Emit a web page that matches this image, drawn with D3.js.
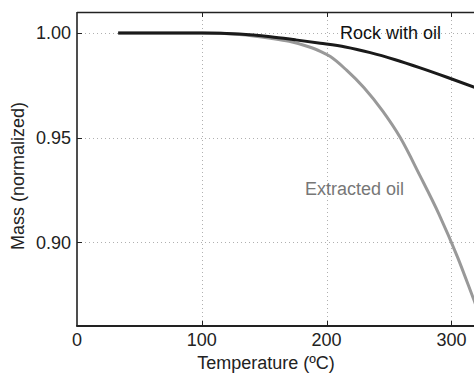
<!DOCTYPE html>
<html>
<head>
<meta charset="utf-8">
<script src="https://cdn.jsdelivr.net/npm/d3@7"></script>
<style>
  html, body { margin: 0; padding: 0; background: #fff; overflow: hidden; }
  svg { display: block; font-family: "Liberation Sans", Arial, sans-serif; }
</style>
</head>
<body>
<div id="chart"></div>
<script>
// ---- Data
const rockTemp = [33, 100, 130, 155, 175, 195, 215, 235, 255, 275, 297, 318, 335];
const rockMass = [1.000, 1.000, 0.9995, 0.9982, 0.9967, 0.9951, 0.9933, 0.9906, 0.9872, 0.9833, 0.9787, 0.9741, 0.9703];
const oilTemp = [33, 100, 130, 155, 170, 185, 195, 203, 216, 230, 245, 259, 275, 290, 305, 318, 335];
const oilMass = [1.000, 1.000, 0.9993, 0.9975, 0.9960, 0.9935, 0.9912, 0.9887, 0.9822, 0.9738, 0.9626, 0.9500, 0.9316, 0.9135, 0.8928, 0.8725, 0.8460];
const xTicks = [0, 100, 200, 300];
const yTicks = [0.90, 0.95, 1.00];

const width = 474, height = 373;
const margins = { left: 77, top: 12, bottom: 47 };
const plotW = 3.5 * 124.8; // runs past the right edge of the window
const plotH = height - margins.top - margins.bottom;

const svg = d3.select('#chart')
    .append('svg')
    .attr('width', width)
    .attr('height', height);

const x = d3.scaleLinear().domain([0, 350]).range([margins.left, margins.left + plotW]);
const y = d3.scaleLinear().domain([0.86, 1.01]).range([margins.top + plotH, margins.top]);

svg.append('clipPath')
    .attr('id', 'plotClip')
    .append('rect')
    .attr('x', margins.left)
    .attr('y', margins.top)
    .attr('width', plotW)
    .attr('height', plotH);

// ---- Dotted grid
const grid = svg.append('g').attr('class', 'grid')
    .style('stroke', '#b0b0b0')
    .style('stroke-width', 1)
    .style('stroke-dasharray', '1,3');

grid.selectAll('.vgrid')
    .data(xTicks.filter(d => d > 0))
    .join('line')
    .attr('class', 'vgrid')
    .attr('x1', d => Math.round(x(d)) + 0.5)
    .attr('x2', d => Math.round(x(d)) + 0.5)
    .attr('y1', margins.top)
    .attr('y2', margins.top + plotH);

grid.selectAll('.hgrid')
    .data(yTicks)
    .join('line')
    .attr('class', 'hgrid')
    .attr('x1', margins.left)
    .attr('x2', margins.left + plotW)
    .attr('y1', d => Math.round(y(d)) + 0.5)
    .attr('y2', d => Math.round(y(d)) + 0.5);

// ---- Curves
const line = d3.line()
    .x(d => x(d[0]))
    .y(d => y(d[1]))
    .curve(d3.curveMonotoneX);

const curves = svg.append('g').attr('clip-path', 'url(#plotClip)');

curves.append('path')
    .datum(oilTemp.map((t, i) => [t, oilMass[i]]))
    .attr('d', line)
    .style('fill', 'none')
    .style('stroke', '#999')
    .style('stroke-width', 3);

curves.append('path')
    .datum(rockTemp.map((t, i) => [t, rockMass[i]]))
    .attr('d', line)
    .style('fill', 'none')
    .style('stroke', '#1a1a1a')
    .style('stroke-width', 3);

// ---- Frame
const frame = svg.append('g').style('stroke', '#222');
frame.append('line')
    .attr('x1', margins.left).attr('x2', margins.left + plotW)
    .attr('y1', margins.top + 0.5).attr('y2', margins.top + 0.5)
    .style('stroke-width', 1.3);
frame.append('line')
    .attr('x1', margins.left).attr('x2', margins.left)
    .attr('y1', margins.top).attr('y2', margins.top + plotH)
    .style('stroke-width', 1.6);
frame.append('line')
    .attr('x1', margins.left - 0.8).attr('x2', margins.left + plotW)
    .attr('y1', margins.top + plotH).attr('y2', margins.top + plotH)
    .style('stroke-width', 2);

// small inward ticks
frame.selectAll('.xtick')
    .data(xTicks.filter(d => d > 0))
    .join('line')
    .attr('x1', d => Math.round(x(d)) + 0.5)
    .attr('x2', d => Math.round(x(d)) + 0.5)
    .attr('y1', margins.top + plotH)
    .attr('y2', margins.top + plotH - 5)
    .style('stroke-width', 1);
frame.selectAll('.xtickTop')
    .data(xTicks.filter(d => d > 0))
    .join('line')
    .attr('x1', d => Math.round(x(d)) + 0.5)
    .attr('x2', d => Math.round(x(d)) + 0.5)
    .attr('y1', margins.top)
    .attr('y2', margins.top + 5)
    .style('stroke-width', 1);
frame.selectAll('.ytick')
    .data(yTicks)
    .join('line')
    .attr('x1', margins.left)
    .attr('x2', margins.left + 5)
    .attr('y1', d => Math.round(y(d)) + 0.5)
    .attr('y2', d => Math.round(y(d)) + 0.5)
    .style('stroke-width', 1);

// ---- Tick labels
svg.selectAll('.xlabel')
    .data(xTicks)
    .join('text')
    .attr('class', 'xlabel')
    .attr('x', d => x(d))
    .attr('y', 346)
    .attr('text-anchor', 'middle')
    .style('font-size', '18px')
    .style('fill', '#222')
    .text(d => d);

svg.selectAll('.ylabel')
    .data(yTicks)
    .join('text')
    .attr('class', 'ylabel')
    .attr('x', 71)
    .attr('y', d => y(d) + 6.5)
    .attr('text-anchor', 'end')
    .style('font-size', '18px')
    .style('fill', '#222')
    .text(d => d3.format('.2f')(d));

// ---- Axis titles
svg.append('text')
    .attr('x', 266)
    .attr('y', 369)
    .attr('text-anchor', 'middle')
    .style('font-size', '18px')
    .style('fill', '#222')
    .text('Temperature (ºC)');

svg.append('text')
    .attr('transform', 'translate(24,176) rotate(-90)')
    .attr('text-anchor', 'middle')
    .style('font-size', '18px')
    .style('fill', '#222')
    .text('Mass (normalized)');

// ---- Curve annotations
svg.append('text')
    .attr('x', 340)
    .attr('y', 39)
    .style('font-size', '18px')
    .style('fill', '#111')
    .text('Rock with oil');

svg.append('text')
    .attr('x', 305)
    .attr('y', 195)
    .style('font-size', '18px')
    .style('fill', '#777')
    .text('Extracted oil');
</script>
</body>
</html>
